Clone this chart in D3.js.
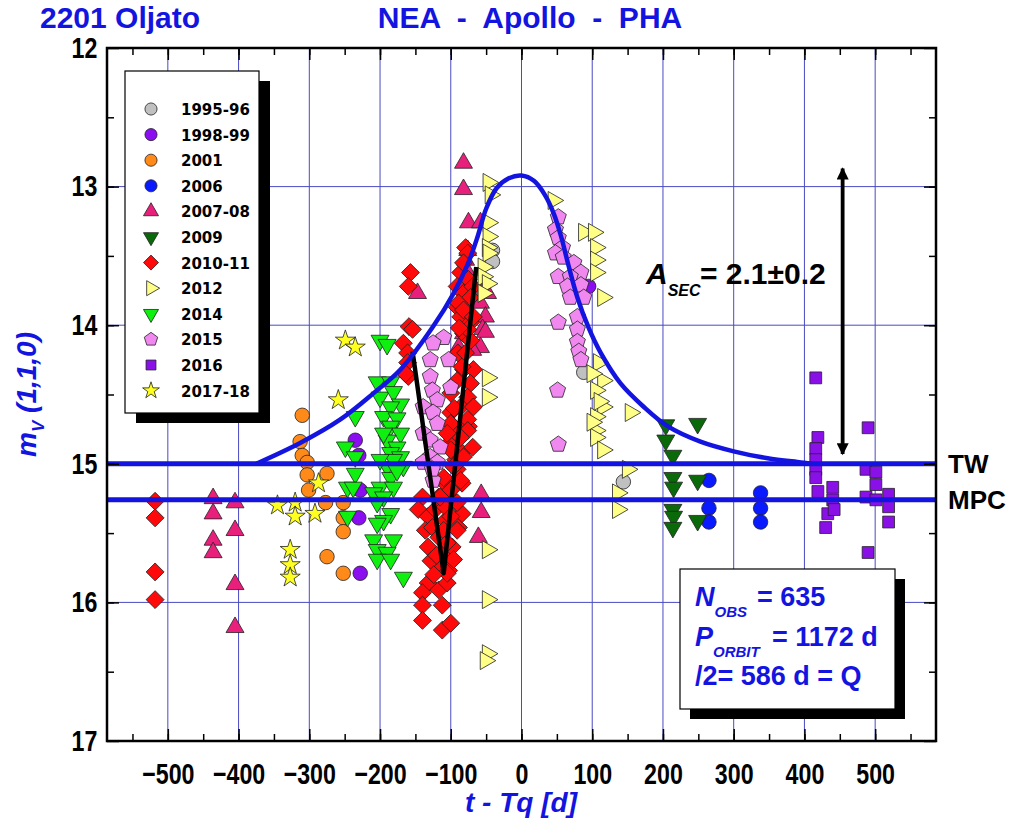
<!DOCTYPE html>
<html>
<head>
<meta charset="utf-8">
<script src="https://cdn.jsdelivr.net/npm/d3@7"></script>
<style>
  body { margin: 0; background: #fff; }
  svg { display: block; }
  text { font-family: "Liberation Sans", Arial, sans-serif; }
</style>
</head>
<body>
<div id="chart"></div>
<script>
// series labels as in the legend
const seriesNames = ['1995-96', '1998-99', '2001', '2006', '2007-08', '2009', '2010-11', '2012', '2014', '2015', '2016', '2017-18'];

// [t - Tq (d), m_V(1,1,0)]
const obs1995_96 = [[-41, 13.46], [-41, 13.54], [88, 14.34], [144, 15.13]];
const obs1998_99 = [[-235, 14.83], [-230, 14.94], [-228, 15.19], [-230, 15.39], [-228, 15.79], [95, 13.72]];
const obs2001 = [[-310, 14.65], [-313, 14.84], [-310, 14.94], [-303, 14.99], [-303, 15.08], [-275, 15.07], [-301, 15.19],
  [-277, 15.28], [-252, 15.28], [-252, 15.39], [-252, 15.49], [-275, 15.67], [-252, 15.79]];
const obs2006 = [[265, 15.12], [265, 15.32], [265, 15.42], [338, 15.21], [338, 15.32], [338, 15.42]];
const obs2007_08 = [[-436, 15.25], [-436, 15.36], [-436, 15.55], [-436, 15.64], [-405, 15.28], [-405, 15.48], [-405, 15.87], [-405, 16.18],
  [-82, 12.83], [-82, 13.02], [-75, 13.26], [-58, 13.26], [-76, 13.46], [-79, 13.53], [-76, 13.62], [-54, 13.75], [-58, 13.84],
  [-51, 13.94], [-55, 14.03], [-89, 14.16], [-58, 14.16], [-51, 14.05], [-69, 14.18], [-82, 14.06], [-147, 13.77], [-48, 13.77],
  [-57, 15.22], [-57, 15.35], [-61, 15.53]];
const obs2009 = [[204, 14.72], [249, 14.71], [204, 14.83], [214, 14.94], [214, 15.10], [215, 15.17], [214, 15.33], [215, 15.38],
  [214, 15.46], [249, 15.12], [249, 15.41]];
const obs2010_11 = [[-518, 15.27], [-518, 15.39], [-518, 15.78], [-518, 15.98],
  [-157, 13.62], [-160, 13.72], [-159, 14.01], [-154, 14.03], [-167, 14.13], [-161, 14.20], [-161, 14.27], [-160, 14.37], [-164, 14.35],
  [-140, 15.24], [-146, 15.33], [-132, 15.38], [-136, 15.48], [-126, 15.46], [-132, 15.60], [-117, 15.53], [-108, 15.64], [-112, 15.74],
  [-103, 15.77], [-132, 15.86], [-140, 15.93], [-117, 15.91], [-105, 15.86], [-140, 16.02], [-112, 16.02], [-140, 16.13], [-112, 16.20],
  [-100, 16.15], [-98, 15.60], [-89, 15.46], [-84, 15.36], [-93, 15.28], [-108, 15.41], [-84, 15.14], [-91, 15.04], [-84, 14.92],
  [-98, 14.83], [-75, 14.73], [-93, 14.97], [-112, 15.12], [-117, 15.24], [-103, 15.24], [-122, 15.33], [-108, 15.31],
  [-86, 13.62], [-91, 13.72], [-82, 13.77], [-91, 13.87], [-76, 13.91], [-86, 13.94], [-72, 13.98], [-82, 14.06], [-72, 14.11],
  [-82, 14.32], [-68, 14.32], [-91, 14.40], [-72, 14.42], [-100, 14.49], [-76, 14.52], [-86, 14.59], [-68, 14.59], [-100, 14.63],
  [-76, 14.68], [-96, 14.73], [-76, 14.76], [-86, 14.81], [-79, 13.44], [-76, 13.48], [-75, 13.67], [-69, 13.72], [-82, 13.55],
  [-72, 13.80], [-89, 13.84], [-82, 13.89], [-68, 13.94], [-76, 14.03],
  [-84, 14.30], [-100, 14.71], [-105, 14.78], [-69, 14.88], [-100, 14.90], [-82, 14.95], [-96, 15.02], [-110, 15.10], [-86, 15.12],
  [-100, 15.19], [-115, 15.24], [-91, 15.28], [-100, 15.38], [-110, 15.48], [-91, 15.48], [-105, 15.57], [-96, 15.69], [-105, 15.79],
  [-128, 15.70], [-124, 15.80], [-120, 15.66], [-95, 14.60], [-90, 14.20], [-79, 14.20], [-88, 14.02]];
const obs2012 = [[-47, 12.97], [-44, 13.06], [-47, 13.26], [-47, 13.36], [-48, 13.44], [-47, 13.48], [-54, 13.58], [-54, 13.65],
  [-48, 13.70], [-54, 13.77], [-48, 14.38], [-48, 14.52], [-48, 15.62], [-48, 15.98], [-48, 16.37], [-51, 16.42],
  [45, 13.10], [88, 13.33], [102, 13.33], [105, 13.44], [105, 13.53], [105, 13.62], [115, 13.80], [109, 14.27], [115, 14.40],
  [105, 14.47], [115, 14.59], [105, 14.66], [105, 14.76], [105, 14.81], [115, 14.90], [100, 14.35], [110, 14.55], [100, 14.70],
  [154, 14.63], [150, 15.04], [136, 15.21], [136, 15.33]];
const obs2014 = [[-235, 14.66], [-249, 14.88], [-235, 14.95], [-235, 15.07], [-246, 15.17], [-238, 15.17], [-246, 15.38],
  [-200, 14.11], [-190, 14.14], [-204, 14.41], [-185, 14.41], [-200, 14.52], [-181, 14.48], [-171, 14.57], [-185, 14.59],
  [-195, 14.66], [-176, 14.67], [-185, 14.73], [-171, 14.78], [-190, 14.83], [-176, 14.88], [-185, 14.92], [-171, 14.95],
  [-190, 15.02], [-167, 15.02], [-185, 15.10], [-200, 15.17], [-181, 15.17], [-209, 15.21], [-195, 15.24], [-204, 15.28],
  [-185, 15.36], [-195, 15.41], [-204, 15.43], [-209, 15.55], [-181, 15.55], [-204, 15.62], [-190, 15.64], [-204, 15.69],
  [-185, 15.69], [-167, 15.82], [-195, 14.78], [-181, 14.97], [-200, 14.97], [-176, 15.05]];
const obs2015 = [[-110, 14.09], [-125, 14.13], [-129, 14.25], [-103, 14.25], [-129, 14.37], [-100, 14.45], [-126, 14.47],
  [-119, 14.54], [-139, 14.59], [-125, 14.63], [-119, 14.71], [-139, 14.78], [-129, 14.83], [-115, 14.88], [-129, 14.95],
  [-119, 14.99], [-139, 14.99], [-125, 15.12], [-126, 15.04],
  [52, 13.22], [48, 13.31], [52, 13.37], [58, 13.44], [48, 13.48], [59, 13.51], [74, 13.55], [84, 13.62], [52, 13.65],
  [69, 13.65], [65, 13.72], [84, 13.71], [69, 13.80], [88, 13.80], [52, 13.98], [79, 13.94], [79, 14.03], [79, 14.12],
  [81, 14.19], [84, 14.25], [51, 14.47], [52, 14.86]];
const obs2016 = [[416, 14.38], [419, 14.81], [416, 14.89], [416, 14.97], [416, 15.04], [416, 15.10], [419, 15.20], [440, 15.17],
  [440, 15.26], [433, 15.36], [442, 15.33], [430, 15.46], [490, 14.74], [487, 15.04], [501, 15.06], [501, 15.15], [487, 15.24],
  [501, 15.26], [519, 15.22], [519, 15.31], [519, 15.42], [490, 15.64]];
const obs2017_18 = [[-249, 14.11], [-235, 14.16], [-259, 14.54], [-287, 15.14], [-345, 15.30], [-320, 15.28], [-320, 15.38],
  [-292, 15.36], [-327, 15.62], [-327, 15.73], [-327, 15.82]];

// secular light curve fit
const fitCurve = [[-375, 15.0], [-313, 14.85], [-256, 14.68], [-209, 14.49], [-171, 14.32], [-125, 14.01], [-96, 13.77],
  [-76, 13.56], [-62, 13.36], [-50, 13.16], [-35, 13.01], [-18, 12.94], [0, 12.92],
  [18, 12.96], [33, 13.06], [46, 13.2], [56, 13.36], [66, 13.56], [79, 13.8], [95, 14.02], [112, 14.2],
  [140, 14.42], [173, 14.59], [207, 14.73], [253, 14.84], [300, 14.91], [348, 14.96], [395, 14.99], [410, 15.0]];
const vLines = [[-154, 14.19], [-110, 15.79], [-64, 13.58]];
const refLevels = [{ name: 'TW', mag: 15.0 }, { name: 'MPC', mag: 15.26 }];
const aSecArrow = { t: 454, from: 12.87, to: 14.93 };

const xTicks = [-500, -400, -300, -200, -100, 0, 100, 200, 300, 400, 500];
const yTicks = [12, 13, 14, 15, 16, 17];

// styles
const colors = ['#c0c0c0', '#8a0ef0', '#ff8a1a', '#0a1aff', '#e8207c', '#0a6a0a', '#ff0a0a', '#ffff88', '#10f010', '#f088f0', '#8a10e8', '#ffff20'];
const blue = '#1414e0';

const symbolPentagon = {
  draw(ctx, size) {
    const r = Math.sqrt(size / 2.378);
    for (let i = 0; i < 5; i++) {
      const a = -Math.PI / 2 + i * 2 * Math.PI / 5;
      const px = r * Math.cos(a), py = r * Math.sin(a);
      if (i) ctx.lineTo(px, py); else ctx.moveTo(px, py);
    }
    ctx.closePath();
  }
};
// shape, rotation, size for each series
const shapes = [
  [d3.symbolCircle, 0, 165], [d3.symbolCircle, 0, 165], [d3.symbolCircle, 0, 165], [d3.symbolCircle, 0, 165],
  [d3.symbolTriangle, 0, 140], [d3.symbolTriangle, 180, 140], [d3.symbolSquare, 45, 160], [d3.symbolTriangle, 90, 140],
  [d3.symbolTriangle, 180, 140], [symbolPentagon, 0, 170], [d3.symbolSquare, 0, 140], [d3.symbolStar, 0, 125]
];
const allSeries = [obs1995_96, obs1998_99, obs2001, obs2006, obs2007_08, obs2009, obs2010_11, obs2012, obs2014, obs2015, obs2016, obs2017_18];

const width = 1013, height = 827;
const margin = { top: 48, right: 77, bottom: 86, left: 107 };

const svg = d3.select('#chart').append('svg')
  .attr('width', width)
  .attr('height', height);

const x = d3.scaleLinear().domain([-586, 586]).range([margin.left, width - margin.right]);
const y = d3.scaleLinear().domain([12, 17]).range([margin.top, height - margin.bottom]);

// grid
const grid = svg.append('g').attr('stroke', '#4a4ac4').attr('stroke-width', 1);
grid.selectAll('.gx').data(xTicks).join('line')
  .attr('x1', d => x(d)).attr('x2', d => x(d))
  .attr('y1', y(12)).attr('y2', y(17));
grid.selectAll('.gy').data(yTicks.slice(1, -1)).join('line')
  .attr('class', 'gy')
  .attr('x1', x.range()[0]).attr('x2', x.range()[1])
  .attr('y1', d => y(d)).attr('y2', d => y(d));

// markers
allSeries.forEach((data, i) => {
  const [type, rot, size] = shapes[i];
  const sym = d3.symbol().type(type).size(size);
  svg.append('g').selectAll('path').data(data).join('path')
    .attr('transform', d => `translate(${x(d[0])},${y(d[1])}) rotate(${rot})`)
    .attr('d', sym)
    .attr('fill', colors[i])
    .attr('stroke', '#222')
    .attr('stroke-width', 0.8);
});

// black V
svg.append('path')
  .datum(vLines)
  .attr('d', d3.line().x(d => x(d[0])).y(d => y(d[1])))
  .attr('fill', 'none')
  .attr('stroke', '#000')
  .attr('stroke-width', 4.5)
  .attr('stroke-linejoin', 'round');

// TW and MPC levels
svg.selectAll('.lvl').data(refLevels).join('line')
  .attr('x1', x.range()[0]).attr('x2', x.range()[1])
  .attr('y1', d => y(d.mag)).attr('y2', d => y(d.mag))
  .attr('stroke', blue).attr('stroke-width', 5);
svg.selectAll('.lvlText').data(refLevels).join('text')
  .attr('x', x.range()[1] + 12)
  .attr('y', d => y(d.mag) + 9)
  .style('font-size', '26px').style('font-weight', 'bold')
  .text(d => d.name);

// fit curve
svg.append('path')
  .datum(fitCurve)
  .attr('d', d3.line().x(d => x(d[0])).y(d => y(d[1])).curve(d3.curveCatmullRom.alpha(0.5)))
  .attr('fill', 'none')
  .attr('stroke', blue)
  .attr('stroke-width', 4.5);

// amplitude arrow
const defs = svg.append('defs');
defs.append('marker').attr('id', 'ah')
  .attr('viewBox', '0 0 10 10').attr('refX', 9).attr('refY', 5)
  .attr('markerWidth', 4.5).attr('markerHeight', 3.2)
  .attr('orient', 'auto-start-reverse')
  .append('path').attr('d', 'M0,0 L10,5 L0,10 Z').attr('fill', '#000');
svg.append('line')
  .attr('x1', x(aSecArrow.t)).attr('x2', x(aSecArrow.t))
  .attr('y1', y(aSecArrow.to)).attr('y2', y(aSecArrow.from))
  .attr('stroke', '#000').attr('stroke-width', 3.8)
  .attr('marker-start', 'url(#ah)').attr('marker-end', 'url(#ah)');

const aText = svg.append('text').attr('x', 646).attr('y', 284)
  .style('font-size', '30px').style('font-weight', 'bold');
aText.append('tspan').style('font-style', 'italic').text('A');
aText.append('tspan').attr('dy', 12).style('font-size', '16px').style('font-style', 'italic').text('SEC');
aText.append('tspan').attr('x', 700).attr('dy', -12).text('= 2.1±0.2');

// frame + axes
const axG = svg.append('g');
function styleAxis(g) {
  g.select('.domain').remove();
  g.selectAll('line').attr('stroke', '#000').attr('stroke-width', 1.5);
}
const xMinor = d3.range(-550, 551, 50);
const yMinor = d3.range(12.5, 17, 0.5);
[[d3.axisBottom, y(17)], [d3.axisTop, y(12)]].forEach(([ax, pos]) => {
  axG.append('g').attr('transform', `translate(0,${pos})`)
    .call(ax(x).tickValues(xMinor).tickSize(-7).tickFormat('')).call(styleAxis);
});
[[d3.axisLeft, x.range()[0]], [d3.axisRight, x.range()[1]]].forEach(([ax, pos]) => {
  axG.append('g').attr('transform', `translate(${pos},0)`)
    .call(ax(y).tickValues(yMinor).tickSize(-7).tickFormat('')).call(styleAxis);
});
const xAxis = axG.append('g').attr('transform', `translate(0,${y(17)})`)
  .call(d3.axisBottom(x).tickValues(xTicks).tickSize(-12).tickPadding(22)).call(styleAxis);
axG.append('g').attr('transform', `translate(0,${y(12)})`)
  .call(d3.axisTop(x).tickValues(xTicks).tickSize(-12).tickFormat('')).call(styleAxis);
const yAxis = axG.append('g').attr('transform', `translate(${x.range()[0]},0)`)
  .call(d3.axisLeft(y).tickValues(yTicks).tickSize(-12).tickPadding(12).tickFormat(d3.format('d'))).call(styleAxis);
axG.append('g').attr('transform', `translate(${x.range()[1]},0)`)
  .call(d3.axisRight(y).tickValues(yTicks).tickSize(-12).tickFormat('')).call(styleAxis);
[xAxis, yAxis].forEach(g => g.selectAll('text')
  .attr('fill', '#000')
  .attr('transform', 'scale(0.8,1)')
  .style('font-size', '29px').style('font-weight', 'bold'));

svg.append('rect')
  .attr('x', x.range()[0]).attr('y', y(12))
  .attr('width', x.range()[1] - x.range()[0]).attr('height', y(17) - y(12))
  .attr('fill', 'none').attr('stroke', '#000').attr('stroke-width', 2.5);

// titles
svg.append('text').attr('x', 40).attr('y', 28)
  .attr('fill', blue).style('font-size', '30px').style('font-weight', 'bold')
  .text('2201 Oljato');
svg.append('text').attr('x', 530).attr('y', 28).attr('text-anchor', 'middle')
  .attr('fill', blue).style('font-size', '30px').style('font-weight', 'bold')
  .style('white-space', 'pre')
  .text('NEA  -  Apollo  -  PHA');
svg.append('text').attr('x', 521).attr('y', 812).attr('text-anchor', 'middle')
  .attr('fill', blue).style('font-size', '28px').style('font-weight', 'bold').style('font-style', 'italic')
  .text('t - Tq [d]');
const yl = svg.append('text').attr('transform', `translate(36,${y(14.5)}) rotate(-90)`)
  .attr('text-anchor', 'middle')
  .attr('fill', blue).style('font-size', '28px').style('font-weight', 'bold').style('font-style', 'italic');
yl.append('tspan').text('m');
yl.append('tspan').attr('dy', 8).style('font-size', '17px').text('V');
yl.append('tspan').attr('dy', -8).text(' (1,1,0)');

// legend
const lg = svg.append('g');
lg.append('rect').attr('x', 136).attr('y', 81).attr('width', 134).attr('height', 342).attr('fill', '#000');
lg.append('rect').attr('x', 125).attr('y', 71).attr('width', 134).attr('height', 342)
  .attr('fill', '#fff').attr('stroke', '#000').attr('stroke-width', 1.2);
seriesNames.forEach((name, i) => {
  const cy = 109 + i * 25.6;
  const [type, rot, size] = shapes[i];
  lg.append('path')
    .attr('transform', `translate(151,${cy}) rotate(${rot})`)
    .attr('d', d3.symbol().type(type).size(size * 0.7))
    .attr('fill', colors[i]).attr('stroke', '#222').attr('stroke-width', 0.8);
  lg.append('text').attr('x', 181).attr('y', cy + 6)
    .style('font-family', '"DejaVu Sans", sans-serif')
    .style('font-size', '15px').style('font-weight', 'bold')
    .text(name);
});

// info box
const ib = svg.append('g');
ib.append('rect').attr('x', 690).attr('y', 579).attr('width', 215).attr('height', 140).attr('fill', '#000');
ib.append('rect').attr('x', 680).attr('y', 569).attr('width', 215).attr('height', 140)
  .attr('fill', '#fff').attr('stroke', '#000').attr('stroke-width', 1.2);
const infoLines = [['N', 'OBS', '= 635', 757], ['P', 'ORBIT', '= 1172 d', 772], [null, null, '/2= 586 d = Q']];
infoLines.forEach((ln, i) => {
  const t = ib.append('text').attr('x', 695).attr('y', 606 + i * 39.5)
    .attr('fill', blue).style('font-size', '27px').style('font-weight', 'bold');
  if (ln[0]) {
    t.append('tspan').style('font-style', 'italic').text(ln[0]);
    t.append('tspan').attr('dy', 11).style('font-size', '15px').style('font-style', 'italic').text(ln[1]);
    t.append('tspan').attr('x', ln[3]).attr('dy', -11).text(ln[2]);
  } else {
    t.text(ln[2]);
  }
});
</script>
</body>
</html>
